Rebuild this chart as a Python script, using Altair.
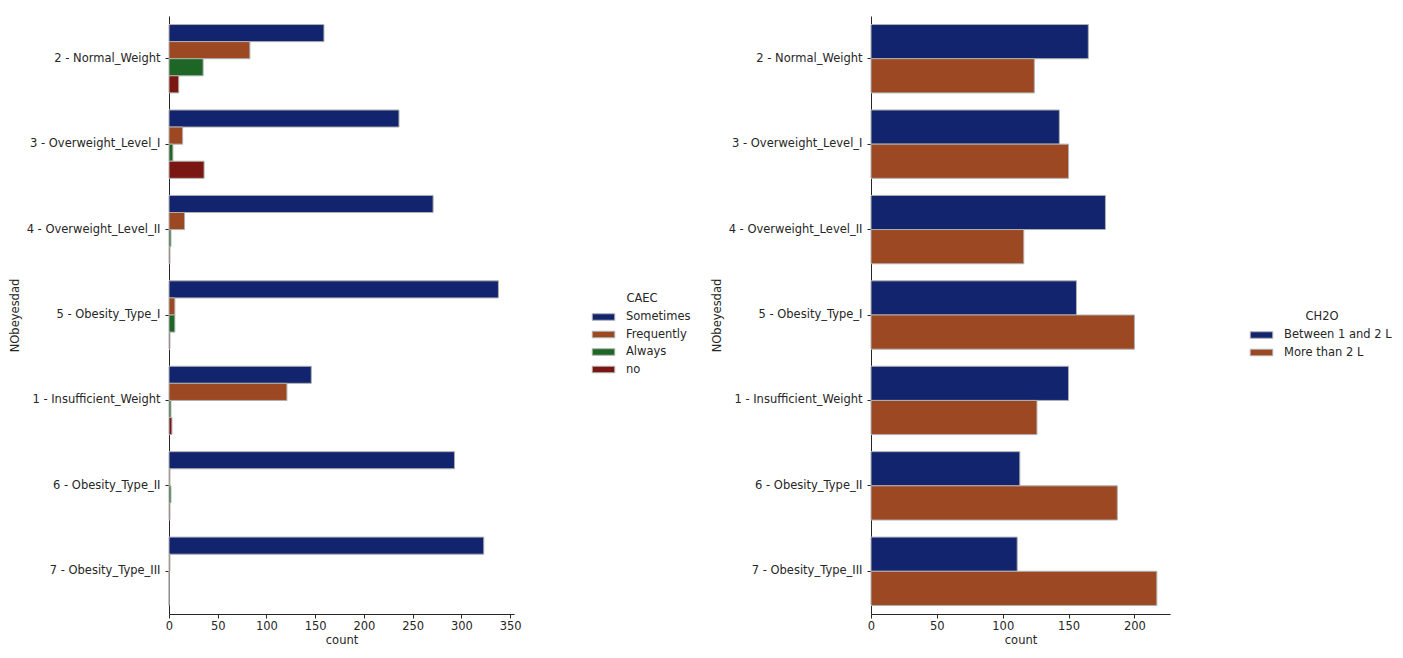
import altair as alt
import pandas as pd

categories = ["2 - Normal_Weight", "3 - Overweight_Level_I", "4 - Overweight_Level_II",
              "5 - Obesity_Type_I", "1 - Insufficient_Weight", "6 - Obesity_Type_II",
              "7 - Obesity_Type_III"]

caec_levels = ["Sometimes", "Frequently", "Always", "no"]
caec_sometimes = [159, 236, 271, 338, 146, 293, 323]
caec_frequently = [83, 14, 16, 6, 121, 1, 1]
caec_always = [35, 4, 2, 6, 2, 2, 0]
caec_no = [10, 36, 1, 1, 3, 1, 0]

ch2o_levels = ["Between 1 and 2 L", "More than 2 L"]
ch2o_between = [165, 143, 178, 156, 150, 113, 111]
ch2o_more = [124, 150, 116, 200, 126, 187, 217]

caec_colors = ["#12246e", "#9c4823", "#1e6626", "#7b1712"]
ch2o_colors = ["#12246e", "#9c4823"]

FONT = "DejaVu Sans"
TXT = "#262626"
FS = 11.5

rows = []
for lvl, vals in zip(caec_levels, [caec_sometimes, caec_frequently, caec_always, caec_no]):
    for c, v in zip(categories, vals):
        rows.append({"NObeyesdad": c, "CAEC": lvl, "count": v})
df1 = pd.DataFrame(rows)

rows = []
for lvl, vals in zip(ch2o_levels, [ch2o_between, ch2o_more]):
    for c, v in zip(categories, vals):
        rows.append({"NObeyesdad": c, "CH2O": lvl, "count": v})
df2 = pd.DataFrame(rows)

SYMBOL = "M-1.25,-0.36H1.25V0.36H-1.25Z"


def panel(df, field, levels, colors, xmax, ticks, width, lx, ly):
    return alt.Chart(df).mark_bar(stroke="#b0b0b0", strokeWidth=1).encode(
        y=alt.Y("NObeyesdad:N", sort=categories,
                scale=alt.Scale(domain=categories, paddingInner=0.2, paddingOuter=0.1),
                axis=alt.Axis(title="NObeyesdad", labelFontSize=FS, titleFontSize=FS,
                              titleFontWeight="normal", labelFont=FONT, titleFont=FONT,
                              labelColor=TXT, titleColor=TXT, domainColor=TXT,
                              tickColor=TXT, tickSize=4, labelPadding=5,
                              titlePadding=6, grid=False)),
        yOffset=alt.YOffset(f"{field}:N", sort=levels,
                            scale=alt.Scale(domain=levels, paddingInner=0, paddingOuter=0)),
        x=alt.X("count:Q", scale=alt.Scale(domain=[0, xmax], nice=False),
                axis=alt.Axis(title="count", values=ticks, labelFontSize=FS,
                              titleFontSize=FS, titleFontWeight="normal",
                              labelFont=FONT, titleFont=FONT, labelColor=TXT,
                              titleColor=TXT, domainColor=TXT, tickColor=TXT,
                              tickSize=4, labelPadding=2, titlePadding=3,
                              grid=False, labelFlush=False)),
        color=alt.Color(f"{field}:N", sort=levels,
                        scale=alt.Scale(domain=levels, range=colors),
                        legend=alt.Legend(title=field, orient="none", legendX=lx,
                                          legendY=ly, titleAnchor="middle",
                                          titleFontWeight="normal", titleFontSize=FS,
                                          labelFontSize=FS, titleFont=FONT,
                                          labelFont=FONT, titleColor=TXT,
                                          labelColor=TXT, symbolType=SYMBOL,
                                          symbolSize=324, symbolStrokeColor="#b0b0b0",
                                          symbolStrokeWidth=1, symbolOpacity=1,
                                          rowPadding=2.5, labelOffset=13,
                                          padding=0, titlePadding=3)),
    ).properties(width=width, height=598)


left = panel(df1, "CAEC", caec_levels, caec_colors, 354,
             [0, 50, 100, 150, 200, 250, 300, 350], 345, 425, 277)
right = panel(df2, "CH2O", ch2o_levels, ch2o_colors, 227,
              [0, 50, 100, 150, 200], 299, 381, 295)

chart = alt.hconcat(left, right, spacing=20).resolve_scale(
    color="independent", yOffset="independent", x="independent"
).configure_view(stroke=None).properties(
    padding={"left": 1, "top": 8, "right": 0, "bottom": 0}
)

chart.save("out.html", embed_options={"renderer": "svg", "actions": False})
